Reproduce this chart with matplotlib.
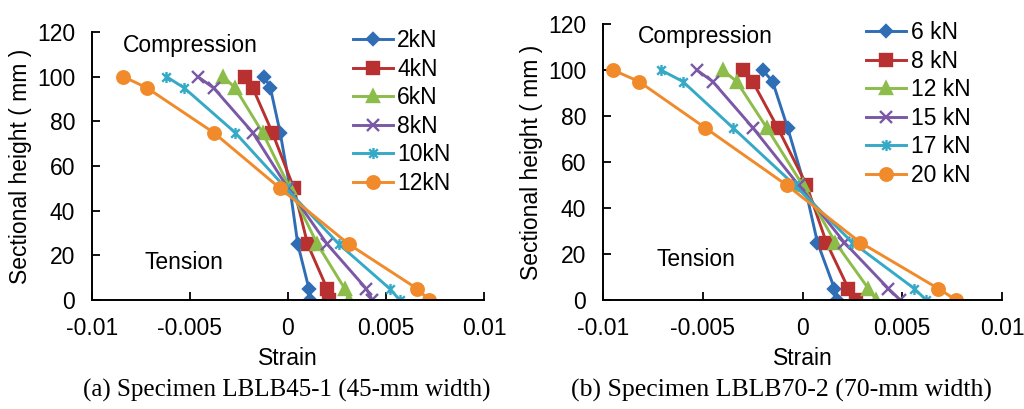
import matplotlib
matplotlib.use("Agg")
import matplotlib.pyplot as plt
from matplotlib.path import Path

plt.rcParams["font.family"] = ["Liberation Sans", "DejaVu Sans"]

# Section heights (mm) at which strain was measured
heights = [100, 95, 75, 50, 25, 5, 0]

# (a) LBLB45-1
labels_a = ["2kN", "4kN", "6kN", "8kN", "10kN", "12kN"]
strain_a = [
    [-0.0012, -0.0009, -0.0004, 0.0001, 0.0005, 0.00107, 0.00112],
    [-0.0022, -0.0018, -0.0008, 0.0003, 0.0010, 0.0020, 0.0021],
    [-0.0033, -0.0027, -0.0013, 0.0001, 0.0015, 0.0029, 0.0031],
    [-0.0046, -0.0038, -0.0018, 0.0000, 0.0020, 0.0040, 0.0043],
    [-0.0062, -0.0053, -0.0027, -0.0001, 0.0026, 0.0052, 0.0057],
    [-0.0084, -0.0072, -0.0038, -0.0004, 0.0031, 0.0066, 0.0072],
]

# (b) LBLB70-2
labels_b = ["6 kN", "8 kN", "12 kN", "15 kN", "17 kN", "20 kN"]
strain_b = [
    [-0.0020, -0.0015, -0.00075, 0.0001, 0.00075, 0.0016, 0.00175],
    [-0.0030, -0.0025, -0.00125, 0.0002, 0.0012, 0.0023, 0.0027],
    [-0.0040, -0.0033, -0.0018, 0.0000, 0.00165, 0.0033, 0.0037],
    [-0.0053, -0.0045, -0.0025, -0.0002, 0.0021, 0.0043, 0.0049],
    [-0.0071, -0.0060, -0.0035, -0.0004, 0.0025, 0.0056, 0.0062],
    [-0.0095, -0.0082, -0.0049, -0.0008, 0.0029, 0.0068, 0.0077],
]

xticks = [-0.01, -0.005, 0, 0.005, 0.01]
xticklabels = ["-0.01", "-0.005", "0", "0.005", "0.01"]
yticks = [0, 20, 40, 60, 80, 100, 120]

colors = ["#2f6db5", "#b8302f", "#8cbd4a", "#7b58a6", "#35a9c6", "#f08a2a"]

# excel-style asterisk: X plus a vertical bar
star = Path(
    [(-1, -1), (1, 1), (-1, 1), (1, -1), (0, -1.3), (0, 1.3)],
    [Path.MOVETO, Path.LINETO, Path.MOVETO, Path.LINETO, Path.MOVETO, Path.LINETO],
)
markers = ["D", "s", "^", "x", star, "o"]
msizes = [6.5, 8, 8.5, 8, 8, 9]

FS = 16.5


def draw_panel(ax, series, labels, comp_xy, tens_xy, leg_anchor):
    for vals, lab, c, m, ms in zip(series, labels, colors, markers, msizes):
        ax.plot(vals, heights, color=c, lw=2.1, marker=m, ms=ms,
                mec=c, mfc=c, mew=1.7, label=lab)
    ax.set_xlim(-0.01, 0.01)
    ax.set_ylim(0, 120)
    ax.set_xticks(xticks)
    ax.set_xticklabels(xticklabels)
    ax.set_yticks(yticks)
    ax.tick_params(direction="in", length=6, width=1.3, labelsize=FS)
    ax.tick_params(axis="x", pad=12)
    ax.tick_params(axis="y", pad=12)
    for s in ["top", "right"]:
        ax.spines[s].set_visible(False)
    for s in ["left", "bottom"]:
        ax.spines[s].set_linewidth(1.4)
    ax.set_xlabel("Strain", fontsize=FS, labelpad=5)
    ax.set_ylabel("Sectional height ( mm )", fontsize=FS, labelpad=4)
    ax.text(*comp_xy, "Compression", fontsize=FS, va="center", ha="left")
    ax.text(*tens_xy, "Tension", fontsize=FS, va="center", ha="left")
    ax.legend(loc="upper left", bbox_to_anchor=leg_anchor, frameon=False,
              fontsize=FS, handlelength=1.75, handletextpad=0.2,
              labelspacing=0.24, borderaxespad=0, borderpad=0)


fig = plt.figure(figsize=(10.24, 4.09), dpi=100)
ax1 = fig.add_axes([92 / 1024, 1 - 300 / 409, 392 / 1024, 268 / 409])
ax2 = fig.add_axes([603 / 1024, 1 - 300 / 409, 399 / 1024, 276 / 409])

draw_panel(ax1, strain_a, labels_a, (-0.0084, 114), (-0.0073, 17),
           (0.665, 1.01))
draw_panel(ax2, strain_b, labels_b, (-0.00825, 114.5), (-0.0073, 17.4),
           (0.66, 1.01))

cap_font = ["Liberation Serif", "DejaVu Serif"]
fig.text(287 / 1024, 1 - 390 / 409, "(a) Specimen LBLB45-1 (45-mm width)",
         ha="center", va="center", fontsize=18, family=cap_font)
fig.text(781 / 1024, 1 - 390 / 409, "(b) Specimen LBLB70-2 (70-mm width)",
         ha="center", va="center", fontsize=18.5, family=cap_font)

fig.savefig("out.png", dpi=100)
